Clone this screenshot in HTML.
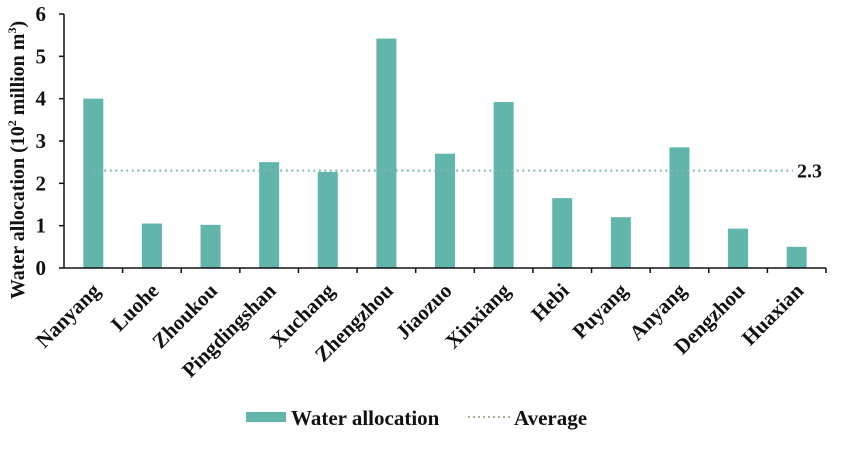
<!DOCTYPE html>
<html><head><meta charset="utf-8">
<style>
html,body{margin:0;padding:0;background:#fff;}
svg{display:block;font-family:"Liberation Serif",serif;font-weight:bold;}
svg text{font-family:"Liberation Serif",serif;font-weight:bold;}
</style></head>
<body>
<svg id="chart" width="855" height="453" viewBox="0 0 855 453">
  <g id="plot"></g>
  <text transform="translate(24,160) rotate(-90)" text-anchor="middle" font-size="20" fill="#111">Water allocation (10<tspan font-size="12" dy="-8">2</tspan><tspan dy="8"> million m</tspan><tspan font-size="12" dy="-8">3</tspan><tspan dy="8">)</tspan></text>
  <g>
    <rect x="246" y="412" width="40" height="10" fill="#62b5aa"/>
    <text x="291" y="425" font-size="21" fill="#111">Water allocation</text>
    <line x1="468" y1="417" x2="510" y2="417" stroke="#9fb29a" stroke-width="2" stroke-dasharray="2,3"/>
    <text x="514" y="425" font-size="21" fill="#111">Average</text>
  </g>
</svg>
<script>
const categories = ["Nanyang","Luohe","Zhoukou","Pingdingshan","Xuchang","Zhengzhou","Jiaozuo","Xinxiang","Hebi","Puyang","Anyang","Dengzhou","Huaxian"];
const values = [4.0,1.05,1.02,2.5,2.27,5.42,2.7,3.92,1.65,1.2,2.85,0.93,0.5];
const averageValue = [2.3];
const yTicks = [0,1,2,3,4,5,6];

const NS = "http://www.w3.org/2000/svg";
const g = document.getElementById("plot");
const x0 = 64, x1 = 826, y0 = 268, y1 = 14, yMax = 6;
const step = (x1 - x0) / categories.length;
const barW = 20;
function yScale(v){ return y0 - (v / yMax) * (y0 - y1); }
function xCenter(i){ return x0 + step * (i + 0.5); }
function mk(tag, attrs){ const e = document.createElementNS(NS, tag); for (const k in attrs) e.setAttribute(k, attrs[k]); g.appendChild(e); return e; }

categories.forEach((c, i) => {
  const r = mk("rect", {x: xCenter(i) - barW/2, y: yScale(values[i]), width: barW, height: y0 - yScale(values[i]), fill: "#62b5aa"});
  
  
});

const avgY = yScale(averageValue[0]);
const al = mk("line", {x1: xCenter(0), y1: avgY, x2: 793, y2: avgY, stroke: "#7fb8ae", "stroke-width": 2, "stroke-dasharray": "2,3.5"});


const at = mk("text", {x: 797, y: avgY + 7, "font-size": 20, fill: "#111"});
at.textContent = averageValue[0].toFixed(1);



const ya = mk("line", {x1: x0, y1: y1, x2: x0, y2: y0, stroke: "#111", "stroke-width": 1.5});


const xa = mk("line", {x1: x0, y1: y0, x2: x1, y2: y0, stroke: "#111", "stroke-width": 1.5});



yTicks.forEach(t => {
  const y = yScale(t);
  const tk = mk("line", {x1: x0 - 5, y1: y, x2: x0, y2: y, stroke: "#111", "stroke-width": 1.5});
  
  
  const tl = mk("text", {x: 46, y: y + 7, "font-size": 21, "text-anchor": "end", fill: "#111"});
  tl.textContent = t;
  
  
});

for (let i = 1; i <= categories.length; i++) {
  const x = x0 + step * i;
  const tk = mk("line", {x1: x, y1: y0, x2: x, y2: y0 + 5, stroke: "#111", "stroke-width": 1.5});
  
  
}

categories.forEach((c, i) => {
  const x = xCenter(i) + 8, y = y0 + 24;
  const t = mk("text", {x: x, y: y, "font-size": 21, "text-anchor": "end", fill: "#111", transform: "rotate(-45 " + x + " " + y + ")"});
  t.textContent = c;
  
  
});
</script>
</body></html>
